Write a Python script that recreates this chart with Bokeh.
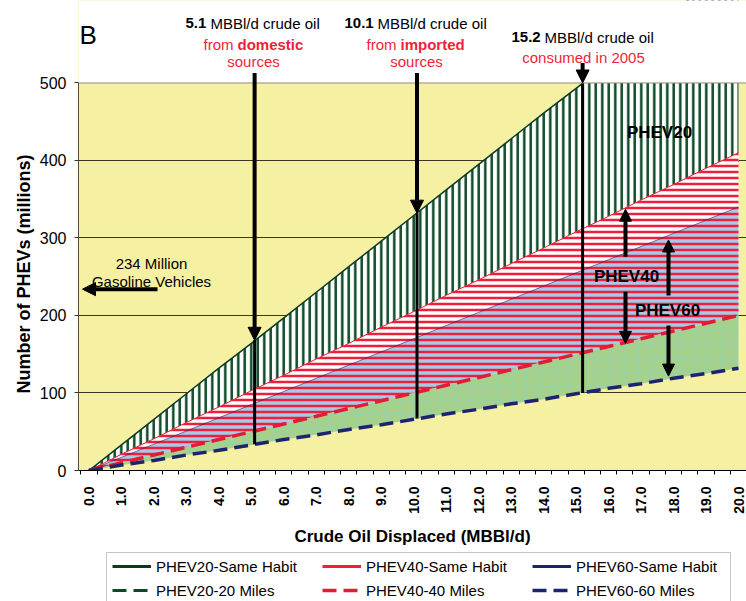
import math
from bokeh.plotting import figure
from bokeh.layouts import column
from bokeh.models import (ColumnDataSource, Range1d, FixedTicker, PrintfTickFormatter,
                          Label, Arrow, NormalHead, Legend, LegendItem, BoxAnnotation, Span,
                          Title)
from bokeh.embed import file_html
from bokeh.resources import INLINE

# ---------------- data ----------------
oil_displaced = [0.0, 1.0, 2.0, 3.0, 4.0, 5.0, 6.0, 7.0, 8.0, 9.0, 10.0,
                 11.0, 12.0, 13.0, 14.0, 15.0, 16.0, 17.0, 18.0, 19.0, 20.0]
phev20_same_habit = [0, 33, 66, 99, 132, 164, 197, 230, 263, 296, 329,
                     362, 395, 428, 461, 493, 526, 559, 592, 625, 658]
phev40_same_habit = [0, 21, 41, 62, 82, 103, 123, 144, 164, 185, 205,
                     226, 246, 267, 287, 308, 328, 349, 369, 390, 410]
phev60_same_habit = [0, 17, 34, 51, 68, 85, 102, 119, 136, 153, 170,
                     187, 204, 221, 238, 255, 272, 289, 306, 323, 340]
phev20_20_miles = [0, 20, 40, 60, 80, 100, 120, 140, 160, 180, 200,
                   220, 240, 260, 280, 300, 320, 340, 360, 380, 400]
phev40_40_miles = [0, 10, 20, 30, 40, 50, 60, 70, 80, 90, 100,
                   110, 120, 130, 140, 150, 160, 170, 180, 190, 200]
phev60_60_miles = [0, 7, 13, 20, 26, 33, 40, 46, 53, 59, 66,
                   73, 79, 86, 92, 99, 106, 112, 119, 125, 132]

series_names = ["PHEV20-Same Habit", "PHEV40-Same Habit", "PHEV60-Same Habit",
                "PHEV20-20 Miles", "PHEV40-40 Miles", "PHEV60-60 Miles"]

oil_marks = [5.1, 10.1, 15.2]            # MBBl/d
oil_marks_top = [168, 332, 500]          # where the marks meet PHEV20-Same Habit
oil_marks_bottom = [34, 67, 100]         # where the marks meet PHEV60-60 Miles
gasoline_vehicles = 234                  # million

x_tick_values = [float(v) for v in range(0, 21)]
y_tick_values = [0, 100, 200, 300, 400, 500]
Y_MAX = 500

FONT = "Liberation Sans"
RED = "#ee1f3b"
GREEN_D = "#0b4a26"
NAVY = "#1c2470"

# page layout: frame x 78..746, y 0..473 ; value 0 at y=473, 500 at y=83
PX_PER_X = 32.475
X_START = -10.5 / PX_PER_X
X_END = X_START + 668 / PX_PER_X
SY = 390.0 / 500.0
Y_TOP = 473.0 / SY
MAIN_H = 548

def X(px):
    return (px - 78.0) / PX_PER_X + X_START
def Y(py):
    return (473.0 - py) / SY

src = ColumnDataSource(dict(x=oil_displaced, g_same=phev20_same_habit,
                            r_same=phev40_same_habit, b_same=phev60_same_habit,
                            g_mi=phev20_20_miles, r_mi=phev40_40_miles,
                            b_mi=phev60_60_miles))

p = figure(width=746, height=MAIN_H, x_range=Range1d(X_START, X_END), y_range=Range1d(0, Y_TOP),
           output_backend="svg", toolbar_location=None,
           min_border_left=78, min_border_right=0, min_border_top=0,
           min_border_bottom=MAIN_H - 473,
           background_fill_color="#f6f0a2", border_fill_color="white",
           outline_line_color=None)

# ---------------- areas ----------------
line_styles = [dict(line_color="#0d3a1e", line_width=3),
               dict(line_color=RED, line_width=3),
               dict(line_color=NAVY, line_width=3),
               dict(line_color=GREEN_D, line_width=3, line_dash="14 7"),
               dict(line_color="#e31b34", line_width=3.5, line_dash="14 7"),
               dict(line_color=NAVY, line_width=3.5, line_dash="14 7")]

p.line("x", "g_mi", source=src, **line_styles[3])
p.varea(x="x", y1="r_same", y2="g_same", source=src, fill_color="white",
        hatch_pattern="vertical_line", hatch_color=GREEN_D,
        hatch_weight=2.5, hatch_scale=6.5)
p.varea(x="x", y1="r_mi", y2="r_same", source=src, fill_color="white")
p.varea(x="x", y1="r_mi", y2="b_same", source=src, fill_color="#a8cae8")
p.varea(x="x", y1="r_mi", y2="r_same", source=src, fill_alpha=0,
        hatch_pattern="horizontal_line", hatch_color=RED, hatch_weight=2.5, hatch_scale=6)
p.varea(x="x", y1="b_mi", y2="r_mi", source=src, fill_color="#a6d18c",
        hatch_pattern="cross", hatch_color="#7fd3df", hatch_weight=0.7,
        hatch_scale=14, hatch_alpha=0.7)

# ---------------- lines ----------------
p.line("x", "g_same", source=src, line_color="#0d3a1e", line_width=1.5)
p.line("x", "r_same", source=src, line_color=RED, line_width=1)
p.line("x", "b_same", source=src, line_color=NAVY, line_width=1, line_alpha=0.6)
p.line("x", "r_mi", source=src, **line_styles[4])
p.line("x", "b_mi", source=src, **line_styles[5])

p.segment(x0=oil_marks, y0=oil_marks_top, x1=oil_marks, y1=oil_marks_bottom,
          line_color="black", line_width=3)

# white page above the plot area (values above 500 are off the chart)
p.add_layout(BoxAnnotation(bottom=Y_MAX, fill_color="white", fill_alpha=1,
                           line_color=None))
p.add_layout(Span(location=Y_MAX, dimension="width", line_color="#9a8a7a", line_width=1))

# ---------------- axes ----------------
p.xgrid.visible = False
p.ygrid.ticker = FixedTicker(ticks=y_tick_values[1:-1])
p.ygrid.grid_line_color = "#3d3526"
p.ygrid.grid_line_width = 1

xa = p.xaxis[0]
xa.ticker = FixedTicker(ticks=x_tick_values,
                        minor_ticks=[v - 0.25 for v in x_tick_values] + [20.25] +
                                    [v + 0.25 for v in x_tick_values[:-1]])
xa.formatter = PrintfTickFormatter(format="%.1f")
xa.major_label_orientation = math.pi / 2
xa.major_tick_out = 0
xa.major_tick_in = 0
xa.minor_tick_out = 4
xa.minor_tick_in = 0
xa.minor_tick_line_color = "black"
xa.axis_line_color = "black"
xa.major_label_standoff = 12
xa.major_label_text_font = FONT
xa.major_label_text_font_size = "14px"
xa.major_label_text_font_style = "bold"
xa.major_label_text_color = "black"
xa.axis_label = "Crude Oil Displaced (MBBl/d)"
xa.axis_label_text_font = FONT
xa.axis_label_text_font_size = "17px"
xa.axis_label_text_font_style = "bold"
xa.axis_label_text_color = "black"
xa.axis_label_standoff = 10

ya = p.yaxis[0]
ya.bounds = (0, Y_MAX)
ya.ticker = FixedTicker(ticks=y_tick_values)
ya.major_tick_out = 4
ya.major_tick_in = 0
ya.minor_tick_out = 0
ya.minor_tick_in = 0
ya.major_tick_line_color = "#3d3526"
ya.axis_line_color = "#5a4a3a"
ya.major_label_standoff = 8
ya.major_label_text_font = FONT
ya.major_label_text_font_size = "16px"
ya.major_label_text_color = "black"

# y-axis title, placed along the 0..500 part of the axis
p.add_layout(Title(text="Number of PHEVs (millions)", align="left", offset=77,
                   text_font=FONT, text_font_size="18px", text_font_style="bold",
                   text_color="black", standoff=6), "left")

# ---------------- annotations ----------------
def txt(x, y, s, size="15px", color="black", bold=False, align="left",
        baseline="alphabetic"):
    p.add_layout(Label(x=x, y=y, text=s, text_font=FONT, text_font_size=size,
                       text_color=color, text_font_style="bold" if bold else "normal",
                       text_align=align, text_baseline=baseline))

def arrow(x0, y0, x1, y1, w=4, size=13):
    p.add_layout(Arrow(end=NormalHead(size=size, fill_color="black", line_color="black"),
                       x_start=x0, y_start=y0, x_end=x1, y_end=y1,
                       line_color="black", line_width=w))

txt(X(79), Y(35), "B", size="26px")
# 5.1
txt(X(185), Y(23), "5.1", bold=True)
txt(X(210), Y(23), "MBBl/d crude oil")
txt(X(203), Y(44), "from", color=RED)
txt(X(237), Y(44), "domestic", color=RED, bold=True)
txt(X(253), Y(61), "sources", color=RED, align="center")
# 10.1
txt(X(344), Y(23), "10.1", bold=True)
txt(X(377), Y(23), "MBBl/d crude oil")
txt(X(366), Y(44), "from", color=RED)
txt(X(400), Y(44), "imported", color=RED, bold=True)
txt(X(416), Y(61), "sources", color=RED, align="center")
# 15.2
txt(X(511), Y(37), "15.2", bold=True)
txt(X(544), Y(37), "MBBl/d crude oil")
txt(X(583), Y(57), "consumed in 2005", color=RED, align="center")

arrow(oil_marks[0], Y(73), oil_marks[0], oil_marks_top[0])
arrow(oil_marks[1], Y(73), oil_marks[1], oil_marks_top[1])
arrow(oil_marks[2], Y(63), oil_marks[2], oil_marks_top[2])

txt(X(151), Y(265), "234 Million", align="center")
txt(X(151), Y(283), "Gasoline Vehicles", align="center")
arrow(X(157), gasoline_vehicles, X(82), gasoline_vehicles)

txt(X(659), Y(133), "PHEV20", size="17px", bold=True, align="center", baseline="middle")
txt(X(626), Y(278), "PHEV40", size="17px", bold=True, align="center", baseline="middle")
txt(X(667), Y(312), "PHEV60", size="17px", bold=True, align="center", baseline="middle")
arrow(X(625), Y(258), X(625), Y(210), size=12)
arrow(X(625), Y(293), X(625), Y(345), size=12)
arrow(X(668), Y(297), X(668), Y(241), size=12)
arrow(X(668), Y(327), X(668), Y(378), size=12)

# ---------------- legend strip under the axis ----------------
FOOT_H = 601 - MAIN_H
f = figure(width=746, height=FOOT_H, x_range=Range1d(X_START, X_END),
           y_range=Range1d(0, FOOT_H),
           output_backend="svg", toolbar_location=None,
           x_axis_location=None, y_axis_location=None,
           min_border_left=78, min_border_right=0, min_border_top=0, min_border_bottom=0,
           background_fill_color="white", border_fill_color="white", outline_line_color=None)
f.grid.visible = False
# legend frame (its lower edge is below the picture, as in the reference)
f.add_layout(BoxAnnotation(left=X(106), right=X(730), top=FOOT_H - 4, bottom=-30,
                           fill_color="white", fill_alpha=1,
                           line_color="#404848", line_width=1))
nan = float("nan")
legend_lines = [f.line(x=[nan], y=[nan], **st) for st in line_styles]
legend = Legend(items=[LegendItem(label=n, renderers=[r])
                       for n, r in zip(series_names, legend_lines)],
                location=(34, 1), orientation="horizontal", ncols=3,
                background_fill_alpha=0, border_line_color=None,
                padding=6, spacing=4, margin=0,
                glyph_width=39, glyph_height=20, label_height=20, label_width=162,
                label_standoff=5, label_text_font=FONT, label_text_font_size="15px",
                label_text_color="black")
f.add_layout(legend)

open("out.html", "w").write(file_html(column(p, f, spacing=0), INLINE))
